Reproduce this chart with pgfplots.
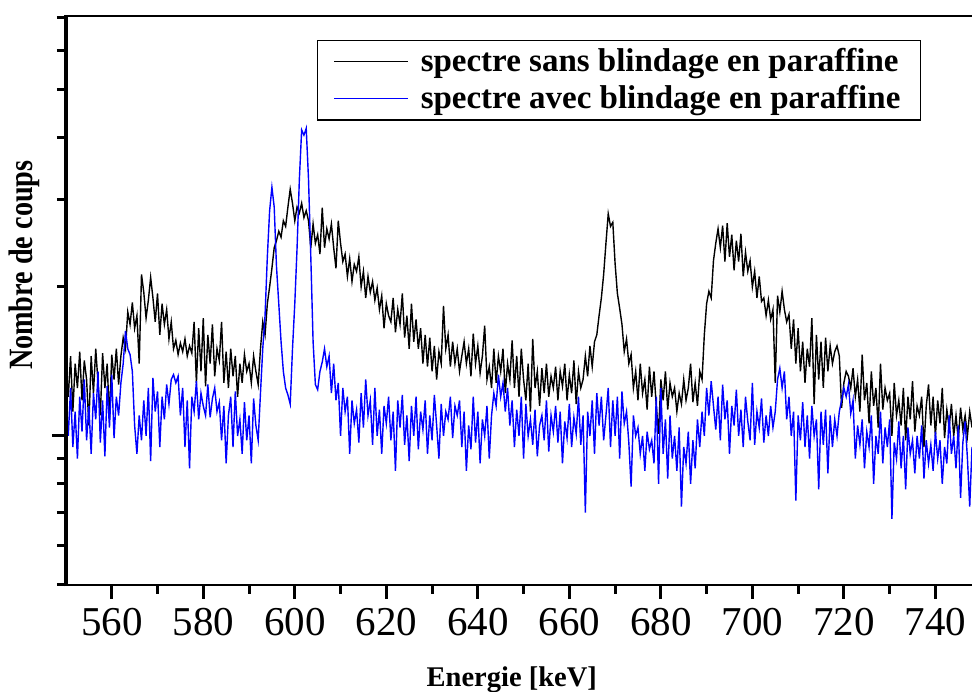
\documentclass[border=0pt]{standalone}
\usepackage{fontspec}
\setmainfont{Liberation Serif}
\usepackage{pgfplots}
\pgfplotsset{compat=1.18}
\usepackage{pgfplotstable}
\usetikzlibrary{calc}

\pgfplotstableread{
x b u
550.0 138 118
550.5 120 100
551.0 145 125
551.5 112 95
552.0 140 112
552.5 125 90
553.0 148 120
553.5 118 102
554.0 142 130
554.5 130 98
555.0 105 115
555.5 145 92
556.0 122 122
556.5 150 108
557.0 128 135
557.5 110 97
558.0 147 118
558.5 125 91
559.0 140 126
559.5 108 104
560.0 146 133
560.5 130 99
561.0 150 120
561.5 127 110
562.0 145 128
562.5 158 140
563.0 150 163
563.5 178 150
564.0 168 146
564.5 186 135
565.0 165 105
565.5 175 92
566.0 140 110
566.5 212 98
567.0 195 118
567.5 173 100
568.0 188 125
568.5 209 89
569.0 190 131
569.5 170 112
570.0 194 123
570.5 160 95
571.0 185 120
571.5 168 108
572.0 180 127
572.5 157 116
573.0 170 130
573.5 150 133
574.0 156 128
574.5 146 132
575.0 154 110
575.5 148 125
576.0 157 95
576.5 145 118
577.0 152 86
577.5 147 120
578.0 170 112
578.5 128 129
579.0 165 108
579.5 135 122
580.0 173 115
580.5 126 110
581.0 160 127
581.5 140 109
582.0 168 119
582.5 132 125
583.0 150 112
583.5 142 117
584.0 170 98
584.5 128 115
585.0 148 88
585.5 125 110
586.0 150 120
586.5 132 95
587.0 145 123
587.5 120 100
588.0 140 108
588.5 128 92
589.0 146 117
589.5 135 98
590.0 140 110
590.5 128 88
591.0 145 119
591.5 135 105
592.0 127 98
592.5 150 122
593.0 170 150
593.5 160 175
594.0 185 230
594.5 200 285
595.0 218 318
595.5 240 290
596.0 248 220
596.5 259 185
597.0 252 155
597.5 272 135
598.0 265 125
598.5 290 121
599.0 315 116
599.5 295 150
600.0 272 185
600.5 290 240
601.0 282 330
601.5 295 415
602.0 276 405
602.5 285 418
603.0 272 330
603.5 240 230
604.0 268 155
604.5 245 127
605.0 255 124
605.5 233 135
606.0 289 141
606.5 240 150
607.0 262 138
607.5 250 145
608.0 268 122
608.5 240 140
609.0 218 118
609.5 272 128
610.0 245 100
610.5 225 125
611.0 233 112
611.5 210 120
612.0 228 92
612.5 205 118
613.0 222 106
613.5 215 113
614.0 230 97
614.5 200 122
615.0 215 104
615.5 190 130
616.0 210 110
616.5 195 118
617.0 205 96
617.5 188 125
618.0 199 100
618.5 180 113
619.0 192 92
619.5 165 115
620.0 185 106
620.5 175 120
621.0 170 98
621.5 190 112
622.0 162 85
622.5 180 118
623.0 168 104
623.5 194 121
624.0 158 96
624.5 175 110
625.0 150 89
625.5 185 115
626.0 155 100
626.5 172 120
627.0 150 94
627.5 165 112
628.0 140 103
628.5 160 118
629.0 138 92
629.5 158 110
630.0 135 98
630.5 152 121
631.0 130 105
631.5 148 90
632.0 140 116
632.5 183 100
633.0 150 112
633.5 160 108
634.0 138 120
634.5 155 99
635.0 140 115
635.5 150 110
636.0 135 118
636.5 145 95
637.0 155 112
637.5 140 85
638.0 150 105
638.5 132 94
639.0 161 120
639.5 140 97
640.0 152 112
640.5 134 88
641.0 145 108
641.5 167 100
642.0 130 115
642.5 138 90
643.0 125 110
643.5 150 122
644.0 128 115
644.5 145 133
645.0 135 120
645.5 150 128
646.0 122 112
646.5 140 125
647.0 130 105
647.5 156 118
648.0 125 95
648.5 145 113
649.0 120 100
649.5 150 120
650.0 130 90
650.5 118 116
651.0 140 100
651.5 112 108
652.0 157 96
652.5 125 113
653.0 135 91
653.5 115 105
654.0 137 110
654.5 122 98
655.0 140 118
655.5 120 93
656.0 132 110
656.5 125 102
657.0 138 115
657.5 118 97
658.0 135 112
658.5 126 88
659.0 140 107
659.5 118 99
660.0 133 116
660.5 122 95
661.0 142 109
661.5 116 101
662.0 135 120
662.5 125 96
663.0 130 110
663.5 145 70
664.0 132 112
664.5 152 100
665.0 138 118
665.5 155 92
666.0 160 122
666.5 175 105
667.0 190 120
667.5 212 98
668.0 245 110
668.5 281 125
669.0 265 95
669.5 270 118
670.0 223 100
670.5 194 120
671.0 181 90
671.5 168 123
672.0 148 106
672.5 157 112
673.0 140 97
673.5 146 79
674.0 125 110
674.5 135 100
675.0 118 104
675.5 140 92
676.0 122 100
676.5 130 85
677.0 113 102
677.5 138 94
678.0 120 98
678.5 135 88
679.0 115 120
679.5 101 80
680.0 130 125
680.5 118 92
681.0 135 108
681.5 113 82
682.0 128 110
682.5 120 90
683.0 125 100
683.5 112 85
684.0 122 104
684.5 116 72
685.0 130 95
685.5 118 88
686.0 125 102
686.5 140 80
687.0 117 98
687.5 128 86
688.0 115 108
688.5 135 95
689.0 130 112
689.5 160 100
690.0 185 125
690.5 196 110
691.0 190 129
691.5 226 115
692.0 245 103
692.5 262 120
693.0 240 98
693.5 266 127
694.0 225 108
694.5 269 118
695.0 230 92
695.5 255 115
696.0 216 105
696.5 248 124
697.0 225 100
697.5 256 113
698.0 210 95
698.5 235 120
699.0 215 107
699.5 226 98
700.0 200 128
700.5 215 96
701.0 190 112
701.5 210 104
702.0 187 119
702.5 190 97
703.0 175 110
703.5 188 100
704.0 172 115
704.5 180 104
705.0 128 112
705.5 192 130
706.0 178 137
706.5 196 125
707.0 180 135
707.5 170 108
708.0 176 120
708.5 150 100
709.0 172 112
709.5 140 74
710.0 165 110
710.5 135 98
711.0 155 117
711.5 128 95
712.0 150 110
712.5 138 90
713.0 173 115
713.5 116 100
714.0 160 108
714.5 130 78
715.0 155 112
715.5 125 96
716.0 158 113
716.5 135 84
717.0 152 110
717.5 140 95
718.0 148 108
718.5 152 100
719.0 145 112
719.5 114 118
720.0 128 125
720.5 135 120
721.0 132 127
721.5 125 111
722.0 137 118
722.5 120 90
723.0 130 105
723.5 112 96
724.0 146 108
724.5 118 86
725.0 128 102
725.5 106 95
726.0 135 110
726.5 115 80
727.0 125 100
727.5 104 92
728.0 140 112
728.5 113 88
729.0 125 104
729.5 118 95
730.0 122 108
730.5 100 68
731.0 128 97
731.5 110 90
732.0 118 107
732.5 105 86
733.0 125 100
733.5 98 78
734.0 120 104
734.5 108 92
735.0 129 98
735.5 102 84
736.0 115 100
736.5 110 90
737.0 120 105
737.5 95 82
738.0 115 98
738.5 127 88
739.0 105 96
739.5 120 85
740.0 100 102
740.5 118 90
741.0 106 98
741.5 125 80
742.0 99 95
742.5 113 88
743.0 104 110
743.5 116 92
744.0 100 100
744.5 110 86
745.0 98 105
745.5 114 75
746.0 103 97
746.5 110 107
747.0 100 90
747.5 112 72
748.0 104 95
}\spectra

\begin{document}
\begin{tikzpicture}
\begin{axis}[
  name=ax,
  scale only axis,
  width=453pt, height=284.5pt,
  xmin=550, xmax=748,
  ymode=log, ymin=50, ymax=705,
  axis line style={draw=none},
  xtick={560,580,...,740},
  minor x tick num=1,
  ytick={100},
  minor ytick={50,60,70,80,90,200,300,400,500,600,700},
  yticklabels={},
  tick align=outside,
  tick pos=left,
  major tick length=7pt,
  minor tick length=4.5pt,
  tick style={black, line width=1.5pt},
  /pgf/number format/assume math mode=true,
  /pgf/number format/set thousands separator={},
  xticklabel style={font=\fontsize{20.5}{20.5}\selectfont, yshift=-1pt},
  xlabel={Energie [keV]},
  ylabel={Nombre de coups},
  label style={inner sep=0pt},
  xlabel style={font=\bfseries\fontsize{14.25}{15}\selectfont,
    at={(rel axis cs:0.492,-0.1775)}, anchor=base},
  ylabel style={font=\bfseries\fontsize{17}{17}\selectfont\addfontfeature{FakeStretch=0.83},
    at={(rel axis cs:-0.0287,0.562)}, anchor=south},
  legend cell align=left,
  legend image code/.code={\draw[#1] (0pt,0pt) -- (37pt,0pt);},
  legend image post style={line width=0.6pt},
  legend style={at={(rel axis cs:0.277,0.958)}, anchor=north west,
    line width=0.6pt,
    font=\bfseries\fontsize{16.5}{18.5}\selectfont,
    inner xsep=8pt, inner ysep=2pt, row sep=1.5pt,
    /tikz/every odd column/.append style={column sep=4pt}},
]
\addplot[black, line width=0.7pt] table[x=x, y=b]{\spectra};
\addlegendentry{spectre sans blindage en paraffine}
\addplot[blue, line width=0.7pt] table[x=x, y=u]{\spectra};
\addlegendentry{spectre avec blindage en paraffine}
\end{axis}
\draw[line width=2pt] ([yshift=-0.7pt]ax.south west) -- ([yshift=0.35pt]ax.north west);
\draw[line width=1.4pt] (ax.south west) -- (ax.south east);
\draw[line width=0.7pt] (ax.north west) -- (ax.north east);
\pgfresetboundingbox
\path[use as bounding box] ($(ax.south west)+(-33pt,-53pt)$) rectangle ($(ax.north east)+(0pt,8pt)$);
\end{tikzpicture}
\end{document}
